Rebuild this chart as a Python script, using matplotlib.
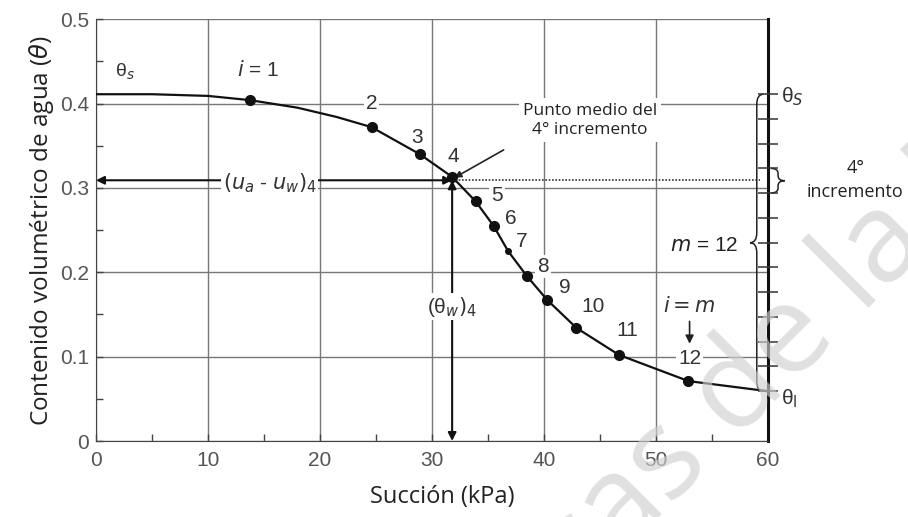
import numpy as np
import matplotlib.pyplot as plt
from matplotlib.path import Path
from matplotlib.patches import PathPatch

# curva de retencion (lectura de la figura)
succion = [0, 5, 10, 13.75, 18, 21.5, 24.6, 28.9, 31.8, 33.9, 35.5, 36.8, 38.5, 40.3, 42.9, 46.7, 52.9, 60]
theta = [0.411, 0.411, 0.409, 0.404, 0.395, 0.384, 0.372, 0.340, 0.313, 0.284, 0.255, 0.225, 0.195, 0.167, 0.134, 0.102, 0.071, 0.059]

# puntos de incremento i = 1..12
inc_x = [13.75, 24.6, 28.9, 31.8, 33.9, 35.5, 36.8, 38.5, 40.3, 42.9, 46.7, 52.9]
inc_y = [0.404, 0.372, 0.340, 0.313, 0.284, 0.255, 0.225, 0.195, 0.167, 0.134, 0.102, 0.071]
inc_lbl = ['i = 1', '2', '3', '4', '5', '6', '7', '8', '9', '10', '11', '12']
lbl_x = [14.5, 24.6, 28.7, 31.9, 35.8, 37.0, 38.0, 39.9, 41.9, 44.4, 47.4, 53.0]
lbl_y = [0.440, 0.400, 0.360, 0.337, 0.291, 0.264, 0.236, 0.207, 0.182, 0.159, 0.131, 0.098]

theta_s = 0.411
theta_r = 0.059
m = 12
x4, y4 = 31.8, 0.309

plt.rcParams['font.family'] = ['Liberation Sans', 'DejaVu Sans']

fig = plt.figure(figsize=(9.08, 5.17), dpi=100)
ax = fig.add_axes([0.1057, 0.147, 0.7401, 0.816])
ax.set_xlim(0, 60)
ax.set_ylim(0, 0.5)

ax.set_xticks(range(0, 61, 10))
ax.set_xticks(range(5, 60, 10), minor=True)
ax.set_yticks([0, 0.1, 0.2, 0.3, 0.4, 0.5])
ax.set_yticklabels(['0', '0.1', '0.2', '0.3', '0.4', '0.5'])
ax.set_yticks([0.05, 0.15, 0.25, 0.35, 0.45], minor=True)
ax.tick_params(which='both', direction='in', colors='#444', labelcolor='#555', labelsize=15, length=5, width=1)
ax.tick_params(axis='x', pad=7)
ax.tick_params(axis='y', pad=5)
ax.grid(True, which='major', color='#777', lw=1)
ax.spines['top'].set_visible(False)
ax.spines['left'].set_color('#444')
ax.spines['bottom'].set_color('#444')
ax.spines['right'].set_linewidth(2.2)
ax.spines['right'].set_color('#111')
ax.set_axisbelow(True)

ax.set_xlabel('Succión (kPa)', fontsize=17, fontfamily='Open Sans', color='#222', labelpad=7)
ax.xaxis.set_label_coords(0.515, -0.105)
ax.set_ylabel(r'Contenido volumétrico de agua ($\theta$)', fontsize=17.5, fontfamily='Open Sans',
              color='#222', labelpad=3)

# ticks del eje derecho (incrementos)
ax2 = ax.twinx()
ax2.set_ylim(0, 0.5)
ax2.set_yticks([theta_s - k * (theta_s - theta_r) / m for k in range(m + 1)])
ax2.set_yticklabels([])
ax2.tick_params(direction='inout', length=14, width=1.1, colors='#333')
for s in ax2.spines.values():
    s.set_visible(False)

# curva y puntos
ax.plot(succion, theta, color='#111', lw=1.6, zorder=4)
ax.plot(inc_x[:6] + inc_x[7:], inc_y[:6] + inc_y[7:], 'o', color='#111', ms=7, zorder=5)
ax.plot([inc_x[6]], [inc_y[6]], 'o', color='#111', ms=4, zorder=5)

bb = dict(facecolor='white', edgecolor='none', pad=1.5)
for lx, ly, s in zip(lbl_x, lbl_y, inc_lbl):
    if s.startswith('i'):
        s = r'$i$ = 1'
    ax.text(lx, ly, s, ha='center', va='center', fontsize=15, color='#333', bbox=bb, zorder=3)

ax.text(1.7, 0.437, r'θ$_s$', fontsize=14, color='#333', ha='left', va='center')
ax.text(53.0, 0.160, r'$i = m$', fontsize=15, color='#333', ha='center', va='center')
ax.annotate('', xy=(53.0, 0.112), xytext=(53.0, 0.145),
            arrowprops=dict(arrowstyle='-|>', color='#222', lw=1.2, mutation_scale=12))

# flechas hacia el punto 4
ax.annotate('', xy=(0, y4), xytext=(x4, y4),
            arrowprops=dict(arrowstyle='<|-|>', color='#111', lw=1.5, mutation_scale=12,
                            shrinkA=0, shrinkB=0), zorder=3)
ax.annotate('', xy=(x4, 0), xytext=(x4, y4),
            arrowprops=dict(arrowstyle='<|-|>', color='#111', lw=1.5, mutation_scale=12,
                            shrinkA=0, shrinkB=0), zorder=3)
ax.text(15.5, 0.306, r'$(u_a$ - $u_w)_4$', fontsize=15, color='#333', ha='center', va='center',
        bbox=dict(facecolor='white', edgecolor='none', pad=1), zorder=4)
ax.text(x4, 0.159, r'(θ$_w)_4$', fontsize=15, color='#333', ha='center', va='center',
        bbox=dict(facecolor='white', edgecolor='none', pad=1), zorder=4)
ax.plot([x4, 59.3], [y4, y4], ls=(0, (1, 1)), color='#333', lw=1.2, zorder=3)

ax.text(44.1, 0.380, 'Punto medio del\n4° incremento', fontsize=12.5, fontfamily='Open Sans',
        color='#222', ha='center', va='center', linespacing=1.3,
        bbox=dict(facecolor='white', edgecolor='none', pad=3), zorder=3)
ax.annotate('', xy=(x4 + 0.2, 0.312), xytext=(36.4, 0.345),
            arrowprops=dict(arrowstyle='-|>', color='#222', lw=1.2, mutation_scale=10, shrinkA=0, shrinkB=0))

# llave grande { con m = 12
def llave(x0, y_top, y_bot, w, r, hacia='izq'):
    ym = (y_top + y_bot) / 2
    d = -1 if hacia == 'izq' else 1
    verts = [(x0 - d * w, y_top), (x0, y_top), (x0, y_top - r),
             (x0, ym + r),
             (x0, ym), (x0 + d * w, ym),
             (x0, ym), (x0, ym - r),
             (x0, y_bot + r),
             (x0, y_bot), (x0 - d * w, y_bot)]
    codes = [Path.MOVETO, Path.CURVE3, Path.CURVE3, Path.LINETO,
             Path.CURVE3, Path.CURVE3, Path.CURVE3, Path.CURVE3,
             Path.LINETO, Path.CURVE3, Path.CURVE3]
    return PathPatch(Path(verts, codes), fill=False, lw=1.1, color='#222', clip_on=False, zorder=6)

ax.add_patch(llave(59.0, theta_s, theta_r, 0.6, 0.012, 'izq'))
ax.add_patch(llave(60.9, 0.323, 0.294, 0.6, 0.006, 'der'))
ax.text(57.3, 0.232, r'$m$ = 12', fontsize=15, color='#222', ha='right', va='center', bbox=bb)

ax.text(61.2, 0.408, r'θ$_S$', fontsize=15, color='#333', ha='left', va='center', clip_on=False)
ax.text(61.2, 0.050, r'θ$_\mathrm{l}$', fontsize=15, color='#333', ha='left', va='center', clip_on=False)
ax.text(67.8, 0.309, '4°\nincremento', fontsize=13, fontfamily='Open Sans', color='#222',
        ha='center', va='center', linespacing=1.4, clip_on=False)

# marca de agua
fig.text(0.855, 0.315, 'cas de la U', fontsize=90, color='#cfcfcf', alpha=0.65, rotation=45,
         ha='center', va='center', fontfamily='Open Sans', zorder=10)

fig.savefig('out.png', dpi=100)
